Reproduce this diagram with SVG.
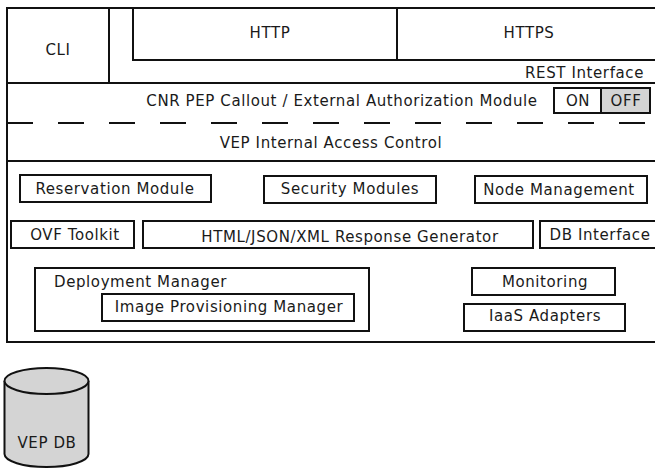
<svg xmlns="http://www.w3.org/2000/svg" width="655" height="468" viewBox="0 0 655 468">
<style>
.b{fill:#fff;stroke:#111;stroke-width:2}
.g{fill:#d4d4d4;stroke:#111;stroke-width:2}
.l{fill:none;stroke:#111;stroke-width:2}
text{font-family:"DejaVu Sans",sans-serif;font-size:15px;letter-spacing:0.6px;fill:#1a1a1a}
.m{text-anchor:middle}
.e{text-anchor:end}
</style>
<rect width="655" height="468" fill="#fff"/>
<g id="frame">
<rect class="b" x="7" y="8" width="660" height="334"/>
<line class="l" x1="7" y1="83" x2="667" y2="83"/>
<line class="l" x1="7" y1="161" x2="667" y2="161"/>
<line class="l" x1="7" y1="123" x2="667" y2="123" stroke-dasharray="26 25"/>
</g>
<g id="cli">
<line class="l" x1="109" y1="8" x2="109" y2="83"/>
<text class="m" x="58" y="55">CLI</text>
</g>
<g id="rest">
<text class="e" x="644" y="78">REST Interface</text>
</g>
<g id="http">
<rect class="b" x="133" y="8" width="264" height="52"/>
<text class="m" x="270" y="38">HTTP</text>
</g>
<g id="https">
<rect class="b" x="397" y="8" width="270" height="52"/>
<text class="m" x="529" y="38">HTTPS</text>
</g>
<g id="cnr">
<text class="m" x="342" y="106">CNR PEP Callout / External Authorization Module</text>
</g>
<g id="on">
<rect class="b" x="554" y="88" width="47" height="25"/>
<text class="m" x="578" y="106">ON</text>
</g>
<g id="off">
<rect class="g" x="601" y="88" width="49" height="25"/>
<text class="m" x="626" y="106">OFF</text>
</g>
<g id="vep-iac">
<text class="m" x="331" y="148">VEP Internal Access Control</text>
</g>
<g id="reservation">
<rect class="b" x="20" y="175" width="191" height="27"/>
<text class="m" x="115" y="194">Reservation Module</text>
</g>
<g id="security">
<rect class="b" x="264" y="176" width="172" height="27"/>
<text class="m" x="350" y="194">Security Modules</text>
</g>
<g id="node-mgmt">
<rect class="b" x="475" y="176" width="172" height="27"/>
<text class="m" x="559" y="195">Node Management</text>
</g>
<g id="ovf">
<rect class="b" x="11" y="221" width="123" height="27"/>
<text class="m" x="75" y="240">OVF Toolkit</text>
</g>
<g id="response-gen">
<rect class="b" x="143" y="221" width="390" height="27"/>
<text class="m" x="350" y="242">HTML/JSON/XML Response Generator</text>
</g>
<g id="db-interface">
<rect class="b" x="540" y="221" width="130" height="27"/>
<text class="m" x="600" y="240">DB Interface</text>
</g>
<g id="deployment">
<rect class="b" x="35" y="268" width="334" height="63"/>
<text x="54" y="287">Deployment Manager</text>
</g>
<g id="image-prov">
<rect class="b" x="102" y="294" width="252" height="27"/>
<text class="m" x="229" y="312">Image Provisioning Manager</text>
</g>
<g id="monitoring">
<rect class="b" x="472" y="268" width="143" height="27"/>
<text class="m" x="545" y="287">Monitoring</text>
</g>
<g id="iaas">
<rect class="b" x="464" y="304" width="161" height="27"/>
<text class="m" x="545" y="321">IaaS Adapters</text>
</g>
<g id="vep-db">
<path class="g" d="M4.5 381 V454 A42 13 0 0 0 88.5 454 V381"/>
<ellipse class="g" cx="46.5" cy="381" rx="42" ry="13"/>
<text class="m" x="47" y="448">VEP DB</text>
</g>
<g id="connectors"></g>
</svg>
